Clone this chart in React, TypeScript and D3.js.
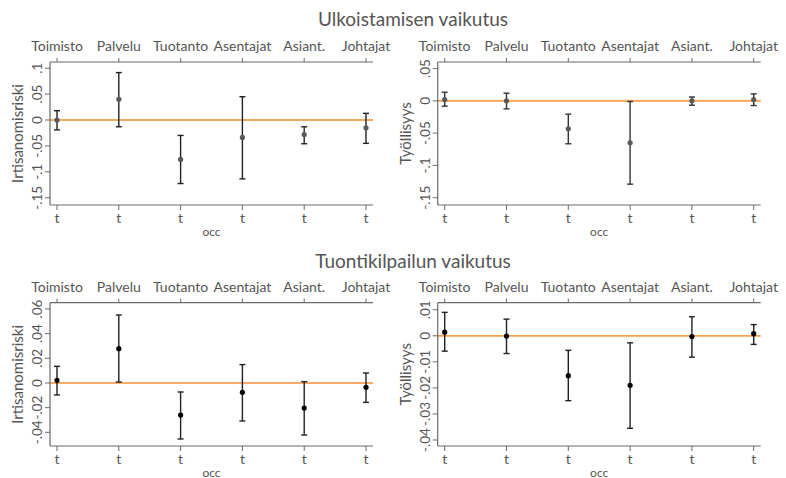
import React from 'react';
import * as d3 from 'd3';

const categories = ['Toimisto', 'Palvelu', 'Tuotanto', 'Asentajat', 'Asiant.', 'Johtajat'];

// Ulkoistamisen vaikutus - irtisanomisriski
const ulkIrtEst = [0.0, 0.04, -0.076, -0.0335, -0.028, -0.015];
const ulkIrtLo = [-0.019, -0.013, -0.1226, -0.1135, -0.0458, -0.045];
const ulkIrtHi = [0.018, 0.0916, -0.0297, 0.045, -0.013, 0.0129];

// Ulkoistamisen vaikutus - työllisyys
const ulkTyoEst = [0.002, 0.0, -0.0433, -0.065, 0.0, 0.002];
const ulkTyoLo = [-0.0082, -0.0124, -0.0665, -0.129, -0.0067, -0.0072];
const ulkTyoHi = [0.0134, 0.0119, -0.0206, -0.001, 0.006, 0.0108];

// Tuontikilpailun vaikutus - irtisanomisriski
const tuoIrtEst = [0.0022, 0.0278, -0.026, -0.0076, -0.0203, -0.0035];
const tuoIrtLo = [-0.0097, 0.0008, -0.0454, -0.0308, -0.0422, -0.0157];
const tuoIrtHi = [0.0135, 0.0551, -0.0073, 0.0149, 0.0011, 0.0081];

// Tuontikilpailun vaikutus - työllisyys
const tuoTyoEst = [0.0014, -0.0001, -0.0153, -0.019, -0.0003, 0.0008];
const tuoTyoLo = [-0.0059, -0.0068, -0.0249, -0.0355, -0.0082, -0.0033];
const tuoTyoHi = [0.009, 0.0064, -0.0056, -0.0027, 0.0073, 0.0043];

const ticksA = [-0.15, -0.1, -0.05, 0, 0.05, 0.1];
const ticksB = [-0.15, -0.1, -0.05, 0, 0.05];
const ticksC = [-0.04, -0.02, 0, 0.02, 0.04, 0.06];
const ticksD = [-0.04, -0.03, -0.02, -0.01, 0, 0.01];

const fmt = (v: number) => {
  if (Math.abs(v) < 1e-9) return '0';
  const s = String(+v.toFixed(3));
  return s.replace('0.', '.');
};

const FONT = 'Lato, "Noto Sans", sans-serif';
const TXT = '#555';
const AXIS = '#6a6a6a';

type PanelProps = {
  left: number; right: number; top: number; bottom: number;
  domain: [number, number];
  ticks: number[];
  est: number[]; lo: number[]; hi: number[];
  yTitle: string;
  pointColor: string; barColor: string;
  refColor: string; refWidth: number;
};

const Panel = (p: PanelProps) => {
  const x = d3.scalePoint<string>().domain(categories).range([p.left + 7, p.right - 7]);
  const y = d3.scaleLinear().domain(p.domain).range([p.bottom, p.top]);
  const cx = (p.left + p.right) / 2;
  const cy = (p.top + p.bottom) / 2;
  return (
    <g fontFamily={FONT} fill={TXT}>
      {/* reference line */}
      <line x1={p.left} x2={p.right} y1={y(0)} y2={y(0)} stroke={p.refColor} strokeWidth={p.refWidth} />
      {/* axes */}
      <line x1={p.left} x2={p.left} y1={p.top} y2={p.bottom} stroke={AXIS} strokeWidth={1.2} />
      <line x1={p.left} x2={p.right} y1={p.bottom} y2={p.bottom} stroke={AXIS} strokeWidth={1.2} />
      <line x1={p.left} x2={p.right} y1={p.top} y2={p.top} stroke={AXIS} strokeWidth={1.2} />
      {p.ticks.map(t => (
        <g key={t}>
          <line x1={p.left - 5} x2={p.left} y1={y(t)} y2={y(t)} stroke={AXIS} strokeWidth={1} />
          <text transform={`translate(${p.left - 8},${y(t)}) rotate(-90)`} textAnchor="middle" fontSize={13.5}>{fmt(t)}</text>
        </g>
      ))}
      {categories.map(c => (
        <g key={c}>
          <line x1={x(c)} x2={x(c)} y1={p.top - 4} y2={p.top} stroke={AXIS} strokeWidth={1} />
          <line x1={x(c)} x2={x(c)} y1={p.bottom} y2={p.bottom + 5} stroke={AXIS} strokeWidth={1} />
          <text x={x(c)} y={p.top - 11} textAnchor="middle" fontSize={14}>{c}</text>
          <text x={x(c)} y={p.bottom + 18} textAnchor="middle" fontSize={14}>t</text>
        </g>
      ))}
      <text x={cx} y={p.bottom + 31} textAnchor="middle" fontSize={12}>occ</text>
      <text transform={`translate(${p.left - 27},${cy}) rotate(-90)`} textAnchor="middle" fontSize={15}>{p.yTitle}</text>
      {/* error bars */}
      {categories.map((c, i) => {
        const xc = x(c) as number;
        return (
          <g key={'e' + c} stroke={p.barColor} strokeWidth={1.4}>
            <line x1={xc} x2={xc} y1={y(p.lo[i])} y2={y(p.hi[i])} />
            <line x1={xc - 3} x2={xc + 3} y1={y(p.lo[i])} y2={y(p.lo[i])} />
            <line x1={xc - 3} x2={xc + 3} y1={y(p.hi[i])} y2={y(p.hi[i])} />
          </g>
        );
      })}
      {categories.map((c, i) => (
        <circle key={'p' + c} cx={x(c)} cy={y(p.est[i])} r={2.6} fill={p.pointColor} />
      ))}
    </g>
  );
};

export default function App() {
  return (
    <div style={{ position: 'absolute', left: 0, top: 0 }}>
      <svg width={786} height={478} style={{ display: 'block', background: '#fff' }}>
        <text x={413} y={26} textAnchor="middle" fontFamily={FONT} fontSize={19} fill={TXT}>Ulkoistamisen vaikutus</text>
        <text x={413} y={268} textAnchor="middle" fontFamily={FONT} fontSize={19} fill={TXT}>Tuontikilpailun vaikutus</text>
        <Panel left={50} right={373} top={62} bottom={205} domain={[-0.164, 0.112]} ticks={ticksA}
          est={ulkIrtEst} lo={ulkIrtLo} hi={ulkIrtHi} yTitle="Irtisanomisriski"
          pointColor="#5a5a5a" barColor="#222" refColor="#f28c28" refWidth={1.6} />
        <Panel left={437.7} right={760.7} top={62} bottom={205} domain={[-0.1613, 0.0602]} ticks={ticksB}
          est={ulkTyoEst} lo={ulkTyoLo} hi={ulkTyoHi} yTitle="Työllisyys"
          pointColor="#5a5a5a" barColor="#333" refColor="#f7ad68" refWidth={2.4} />
        <Panel left={50} right={373} top={302.7} bottom={446} domain={[-0.0511, 0.0651]} ticks={ticksC}
          est={tuoIrtEst} lo={tuoIrtLo} hi={tuoIrtHi} yTitle="Irtisanomisriski"
          pointColor="#000" barColor="#222" refColor="#f2903a" refWidth={1.3} />
        <Panel left={437.7} right={760.7} top={302.7} bottom={446} domain={[-0.0423, 0.0127]} ticks={ticksD}
          est={tuoTyoEst} lo={tuoTyoLo} hi={tuoTyoHi} yTitle="Työllisyys"
          pointColor="#000" barColor="#222" refColor="#f5a050" refWidth={1.8} />
      </svg>
    </div>
  );
}
